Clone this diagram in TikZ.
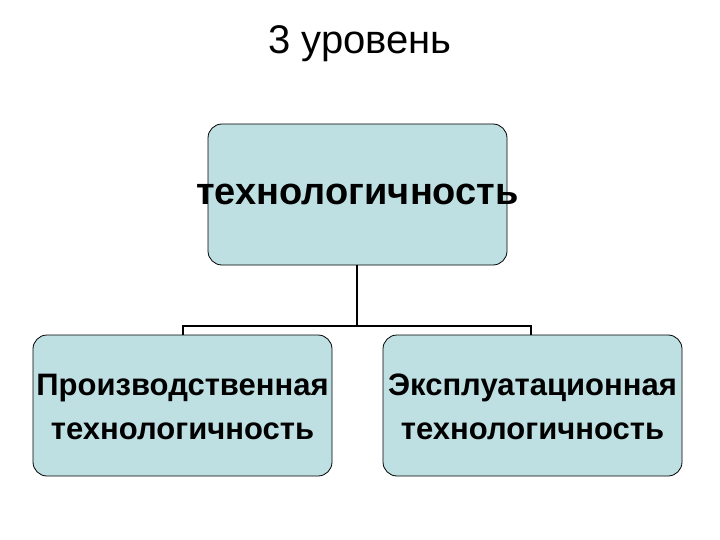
\documentclass[tikz,border=0pt]{standalone}
\usepackage{fontspec}
\setmainfont{Liberation Sans}
\begin{document}
\begin{tikzpicture}[x=1pt,y=-1pt,
  boxst/.style={draw=black,fill=boxc,rounded corners=14pt,line width=0.8pt},
  lbl/.style={font=\bfseries\fontsize{31}{44}\selectfont,align=center}]
\definecolor{boxc}{HTML}{BFE0E2}
\useasboundingbox (0,0) rectangle (720,540);
\node[font=\fontsize{40}{44}\selectfont] (title) at (360,44) {3 уровень};
\draw[boxst] (208,124) rectangle (507,265);
\draw[boxst] (33,335) rectangle (332,476);
\draw[boxst] (383,335) rectangle (682,476);
\coordinate (tb) at (357,265);
\coordinate (j) at (357,326);
\coordinate (l) at (183,335);
\coordinate (r) at (531,335);
\node[font=\bfseries\fontsize{38}{46}\selectfont] (top) at (357.5,194) {технологичность};
\node[lbl] (left) at (182.5,407) {Производственная\\технологичность};
\node[lbl] (right) at (532.5,407) {Эксплуатационная\\технологичность};
\draw[line width=1.8pt] (tb) -- (j) (l) |- (j) -| (r);
\end{tikzpicture}
\end{document}
